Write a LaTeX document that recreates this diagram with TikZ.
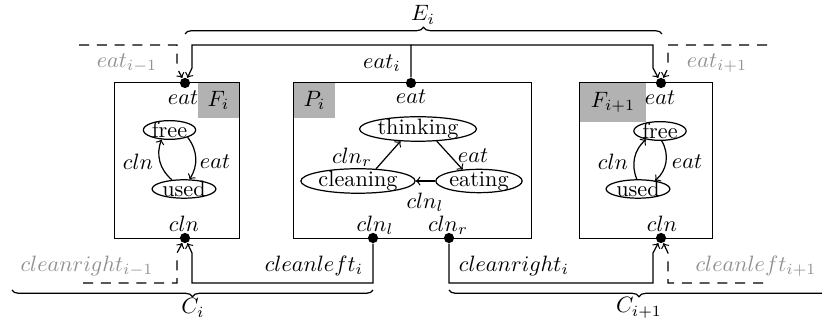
\documentclass[tikz,border=0pt]{standalone}
\usetikzlibrary{decorations.pathreplacing,shapes.geometric}
\definecolor{boxgray}{RGB}{178,178,178}
\definecolor{txtgray}{RGB}{145,145,145}
\begin{document}
\begin{tikzpicture}[x=0.45pt,y=-0.45pt,line width=0.55pt,
  comp/.style={rectangle,inner sep=0pt,minimum height=69.75pt},
  tag/.style={fill=boxgray,inner sep=0pt},
  port/.style={circle,fill,inner sep=0pt,minimum size=4.6pt},
  st/.style={ellipse,draw,inner xsep=0.4pt,inner ysep=-0.6pt},
  lbl/.style={inner sep=0pt},
  ext/.style={inner sep=0pt,text=txtgray},
  conn/.style={->},
  extconn/.style={->,dash pattern=on 4.5pt off 3.5pt},
  brc/.style={decorate,decoration={brace,amplitude=3pt}},
]
\useasboundingbox (0,0) rectangle (822,324);

% component boxes
\node[comp,minimum width=55.8pt] (Fi) at (177,160.5) {};
\node[comp,minimum width=106.65pt] (Pi) at (412.5,160.5) {};
\node[comp,minimum width=59.4pt] (Fj) at (646,160.5) {};

\node[tag,anchor=north east,minimum width=18.45pt,minimum height=15.75pt] (tFi) at (Fi.north east) {$F_i$};
\node[tag,anchor=north west,minimum width=18.45pt,minimum height=15.75pt] (tPi) at (Pi.north west) {$P_i$};
\node[tag,anchor=north west,minimum width=29.7pt,minimum height=17.55pt] (tFj) at (Fj.north west) {$F_{i+1}$};

\foreach \b in {Fi,Pi,Fj} \draw (\b.north west) rectangle (\b.south east);

% ports
\node[port] (fie) at (185,83) {};
\node[port] (fic) at (185,238) {};
\node[port] (pe) at (411,83) {};
\node[port] (pcl) at (373,238) {};
\node[port] (pcr) at (449,238) {};
\node[port] (fje) at (661,83) {};
\node[port] (fjc) at (661,238) {};

% F_i internals
\node[lbl] (fiel) at (183,98) {$eat$};
\node[st] (f1) at (169.5,130) {free};
\node[st] (u1) at (184,189) {used};
\draw[->] (f1.-22) to[bend left=35] (u1.60);
\draw[->] (u1.143) to[bend left=35] (f1.230);
\node[lbl] (ficln) at (138,162) {$cln$};
\node[lbl] (fieat) at (215,162) {$eat$};
\node[lbl] (ficl) at (184,224) {$cln$};

% P_i internals
\node[lbl] (pel) at (411,97) {$eat$};
\node[st] (th) at (418,129) {thinking};
\node[st] (cl) at (358,181) {cleaning};
\node[st] (ea) at (479,181) {eating};
\draw[->] (cl.34) -- (th.215);
\draw[->] (th.-33) -- (ea.145);
\draw[->] (ea.west) -- (cl.east);
\node[lbl] (pclnr) at (352,157) {$cln_r$};
\node[lbl] (peat) at (473,156) {$eat$};
\node[lbl] (pclnl) at (425,202) {$cln_l$};
\node[lbl] (pcll) at (375,225) {$cln_l$};
\node[lbl] (pcrl) at (448,225) {$cln_r$};

% F_{i+1} internals
\node[lbl] (fjel) at (660,98) {$eat$};
\node[st] (f2) at (660,131) {free};
\node[st] (u2) at (638,189) {used};
\draw[->] (f2.-80) to[bend left=40] (u2.26);
\draw[->] (u2.97) to[bend left=35] (f2.211);
\node[lbl] (fjcln) at (613,162) {$cln$};
\node[lbl] (fjeat) at (687,162) {$eat$};
\node[lbl] (fjcl) at (662,224) {$cln$};

% connectors
\draw[conn] (pe) -- (411,45) -- (192,45) -- (192,68) -- (fie);
\draw[conn] (411,45) -- (653,45) -- (653,68) -- (fje);
\draw[conn] (pcl) -- (373,283) -- (192,283) -- (192,253) -- (fic);
\draw[conn] (pcr) -- (449,283) -- (653,283) -- (653,253) -- (fjc);

\coordinate (xl) at (79,45);
\coordinate (xr) at (767,45);
\coordinate (bl) at (83,283);
\coordinate (br) at (763,283);
\draw[extconn] (xl) -- (177,45) -- (177,68) -- (fie);
\draw[extconn] (xr) -- (668,45) -- (668,68) -- (fje);
\draw[extconn] (bl) -- (177,283) -- (177,253) -- (fic);
\draw[extconn] (br) -- (668,283) -- (668,253) -- (fjc);

% outside labels
\node[ext] (lem) at (127,63) {$eat_{i-1}$};
\node[lbl] (lei) at (382,63) {$eat_i$};
\node[ext] (lep) at (717,63) {$eat_{i+1}$};
\node[ext] (lcm) at (87,266) {$cleanright_{i-1}$};
\node[lbl] (lcl) at (314,266) {$cleanleft_i$};
\node[lbl] (lcr) at (514,266) {$cleanright_i$};
\node[ext] (lcp) at (756,266) {$cleanleft_{i+1}$};

% braces
\draw[brc] (185,34) -- (662,34);
\node[lbl] (Ei) at (423,15) {$E_i$};
\draw[brc] (373,290) -- (12,290);
\node[lbl] (Ci) at (193,308) {$C_i$};
\draw[brc] (829,290) -- (449,290);
\node[lbl] (Cj) at (639,308) {$C_{i+1}$};
\end{tikzpicture}
\end{document}
